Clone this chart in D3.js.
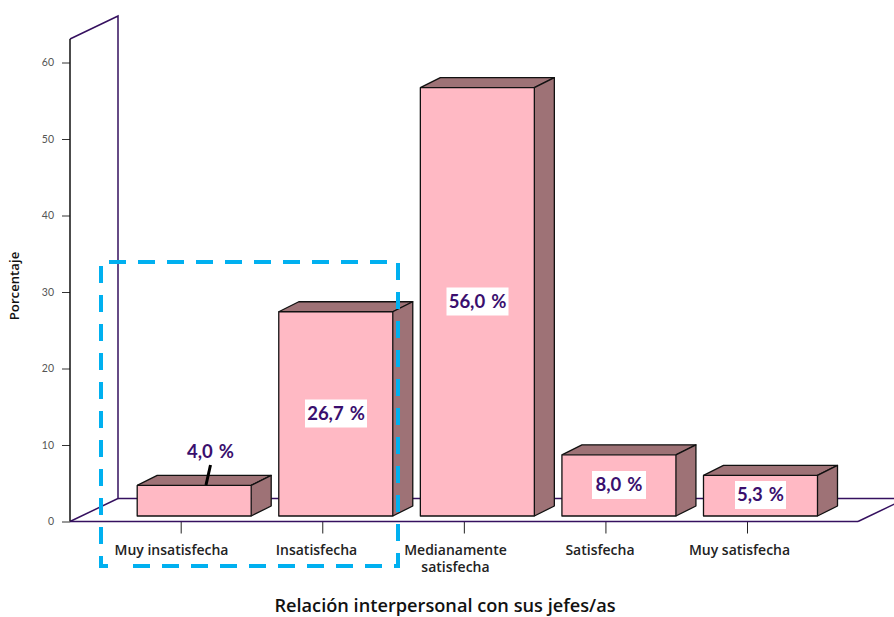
<!DOCTYPE html>
<html>
<head>
<meta charset="utf-8">
<script src="https://cdn.jsdelivr.net/npm/d3@7"></script>
<style>
  html, body { margin: 0; padding: 0; background: #fff; }
  svg { display: block; }
</style>
</head>
<body>
<svg id="chart" width="894" height="617"></svg>
<script>
const categories = ['Muy insatisfecha', 'Insatisfecha', 'Medianamente satisfecha', 'Satisfecha', 'Muy satisfecha'];
const values = [4.0, 26.7, 56.0, 8.0, 5.3];
const valueLabels = ['4,0 %', '26,7 %', '56,0 %', '8,0 %', '5,3 %'];
const yTicks = [0, 10, 20, 30, 40, 50, 60];

const frameColor = '#35105f';
const barFill = '#ffb9c4';
const barShade = '#9e7276';
const labelFont = 'Lato, "Open Sans", sans-serif';
const textFont = '"Open Sans", "Noto Sans", sans-serif';

const svg = d3.select('#chart');

const y = d3.scaleLinear().domain([0, 60]).range([521.5, 62.5]);
const x = d3.scalePoint().domain(categories).range([180.7, 747]);

// floor and wall depth of the fake 3d box
const depth = { dx: 48, dy: -23 };
const barDepth = { dx: 20, dy: -10 };
const barWidth = 114;
const barOffset = 13.5;   // bars sit to the right of their ticks
const barLift = 5.5;      // and a little above the front edge of the floor
const axisLeft = 70;
const axisRight = 858;
const wallTop = 39;

const line = d3.line();

// floor and back wall
const frame = svg.append('g').attr('fill', 'none').attr('stroke', frameColor).attr('stroke-width', 1.5);
frame.append('path').attr('d', line([
  [axisLeft, y(0)], [axisLeft + depth.dx, y(0) + depth.dy],
  [axisLeft + depth.dx, wallTop + depth.dy], [axisLeft, wallTop]
]));
frame.append('path').attr('d', line([[axisLeft + depth.dx, y(0) + depth.dy], [axisRight + depth.dx, y(0) + depth.dy]]));
frame.append('path').attr('d', line([[axisRight, y(0)], [axisRight + depth.dx, y(0) + depth.dy]]));

// y axis
const yAxis = svg.append('g')
  .attr('transform', `translate(${axisLeft},0)`)
  .call(d3.axisLeft(y).tickValues(yTicks).tickSize(8).tickPadding(8));
yAxis.select('.domain').remove();
yAxis.selectAll('line').attr('stroke', '#333');
yAxis.selectAll('text').attr('font-family', 'Lato, sans-serif').attr('font-weight', 400).attr('font-size', 10.5).attr('fill', '#555');
svg.append('path').attr('d', line([[axisLeft, y(0)], [axisLeft, wallTop]]))
  .attr('stroke', '#111').attr('stroke-width', 1.5).attr('fill', 'none');

// x axis
const xAxis = svg.append('g')
  .attr('transform', `translate(0,${y(0)})`)
  .call(d3.axisBottom(x).tickSize(12).tickFormat(''));
xAxis.select('.domain').remove();
xAxis.selectAll('line').attr('stroke', '#222').attr('stroke-width', 1);
svg.append('path').attr('d', line([[axisLeft, y(0)], [axisRight, y(0)]]))
  .attr('stroke', frameColor).attr('stroke-width', 1.6).attr('fill', 'none');

// category labels, the long one wraps on two lines
const catLabels = svg.append('g')
  .attr('font-family', textFont).attr('font-size', 14).attr('font-weight', 600).attr('fill', '#222')
  .attr('text-anchor', 'middle');
const wrapped = { 'Medianamente satisfecha': ['Medianamente', 'satisfecha'] };
const catShift = [171.5, 316.5, 455.5, 600, 739.5];
categories.forEach((c, i) => {
  const t = catLabels.append('text').attr('x', catShift[i]).attr('y', 554.5);
  (wrapped[c] || [c]).forEach((w, j) => {
    t.append('tspan').attr('x', catShift[i]).attr('dy', j ? 17.5 : 0).text(w);
  });
});

// bars
const bars = svg.append('g').selectAll('g').data(categories).join('g')
  .attr('stroke', '#111').attr('stroke-width', 1.3).attr('stroke-linejoin', 'round');

const barLeft = c => x(c) + barOffset - barWidth / 2;
const barBase = y(0) - barLift;
const barTop = i => y(values[i]) - barLift;

bars.append('path').attr('fill', barShade).attr('d', (c, i) => {
  const l = barLeft(c), t = barTop(i);
  return line([[l, t], [l + barDepth.dx, t + barDepth.dy], [l + barWidth + barDepth.dx, t + barDepth.dy], [l + barWidth, t]]);
});
bars.append('path').attr('fill', barShade).attr('d', (c, i) => {
  const l = barLeft(c) + barWidth, t = barTop(i);
  return line([[l, t], [l + barDepth.dx, t + barDepth.dy], [l + barDepth.dx, barBase + barDepth.dy], [l, barBase]]);
});
bars.append('rect').attr('fill', barFill)
  .attr('x', barLeft).attr('y', (c, i) => barTop(i))
  .attr('width', barWidth).attr('height', (c, i) => barBase - barTop(i));

// leader from the first bar up to its label
svg.append('path').attr('d', line([[206, 485], [210.5, 465]]))
  .attr('stroke', '#000').attr('stroke-width', 3).attr('fill', 'none');

// value labels, on white plates except the first one
const labelPos = [[210.5, 451.5], [336, 413.5], [477.5, 301.5], [619, 485], [760.5, 495]];
const plateW = [0, 62, 62, 54, 51];
const plates = svg.append('g');
const labels = svg.append('g')
  .attr('font-family', labelFont).attr('font-weight', 700).attr('font-size', 18.5)
  .attr('word-spacing', 1.5)
  .attr('fill', '#3a0f6e').attr('text-anchor', 'middle');
valueLabels.forEach((s, i) => {
  const [cx, cy] = labelPos[i];
  if (plateW[i]) {
    plates.append('rect').attr('x', cx - plateW[i] / 2).attr('y', cy - 14)
      .attr('width', plateW[i]).attr('height', 28).attr('fill', '#fff');
  }
  labels.append('text').attr('x', cx).attr('y', cy).attr('dy', '0.35em').text(s);
});

// axis titles
svg.append('text').attr('x', 445).attr('y', 612).attr('text-anchor', 'middle')
  .attr('font-family', textFont).attr('font-weight', 600).attr('font-size', 18.2).attr('fill', '#111')
  .text('Relación interpersonal con sus jefes/as');
svg.append('text').attr('transform', 'translate(19,286) rotate(-90)').attr('text-anchor', 'middle')
  .attr('font-family', textFont).attr('font-weight', 600).attr('font-size', 13.2).attr('fill', '#111')
  .text('Porcentaje');

// dashed highlight around the two lowest categories, drawn clockwise from the bottom left
svg.append('path')
  .attr('d', line([[108, 566], [101, 566], [101, 262], [398, 262], [398, 566], [122, 566]]))
  .attr('fill', 'none').attr('stroke', '#00b0f0').attr('stroke-width', 4)
  .attr('stroke-dasharray', '17 12');
</script>
</body>
</html>
